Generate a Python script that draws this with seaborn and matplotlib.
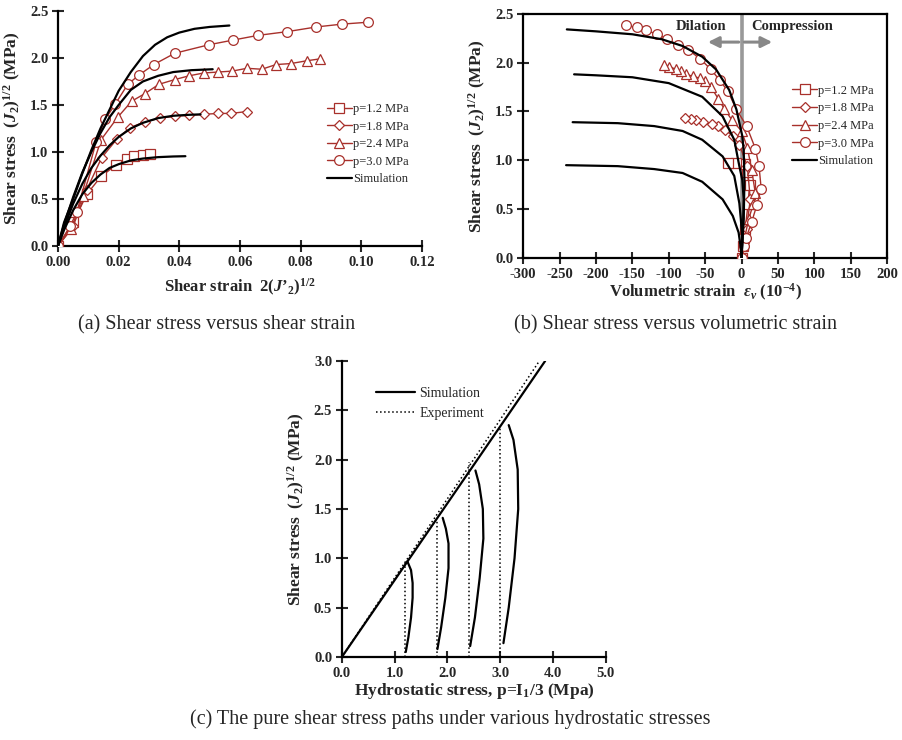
import numpy as np
import pandas as pd
import matplotlib
matplotlib.use("Agg")
import matplotlib.pyplot as plt
from matplotlib.ticker import FormatStrFormatter, MultipleLocator
import seaborn as sns

sns.set_style("ticks")
plt.rcParams['font.family'] = ['Liberation Serif', 'DejaVu Serif']
plt.rcParams['mathtext.fontset'] = 'custom'
plt.rcParams['mathtext.rm'] = 'Liberation Serif:bold'
plt.rcParams['mathtext.bf'] = 'Liberation Serif:bold'
plt.rcParams['mathtext.it'] = 'Liberation Serif:italic:bold'
plt.rcParams['axes.unicode_minus'] = False

RED = '#A8302B'
pressures = ['p=1.2 MPa', 'p=1.8 MPa', 'p=2.4 MPa', 'p=3.0 MPa']
markers = ['s', 'D', '^', 'o']
msizes = [7, 5, 7, 7]

# ---------------- Panel (a): shear stress vs shear strain ----------------
exp_a_12_x = [0, 0.005, 0.0095, 0.0142, 0.0191, 0.0227, 0.0251, 0.0279, 0.0303]
exp_a_12_y = [0, 0.25, 0.55, 0.74, 0.86, 0.93, 0.96, 0.97, 0.98]
exp_a_18_x = [0, 0.005, 0.0095, 0.0144, 0.0195, 0.0238, 0.0286, 0.0337, 0.0385, 0.0432, 0.048, 0.0527, 0.057, 0.0623]
exp_a_18_y = [0, 0.21, 0.60, 0.94, 1.14, 1.26, 1.32, 1.36, 1.38, 1.39, 1.40, 1.41, 1.41, 1.43]
exp_a_24_x = [0, 0.0044, 0.0082, 0.0142, 0.0197, 0.0243, 0.0286, 0.0333, 0.0385, 0.0432, 0.048, 0.0527,
              0.0574, 0.0623, 0.0672, 0.0719, 0.0767, 0.082, 0.0863]
exp_a_24_y = [0, 0.18, 0.53, 1.13, 1.37, 1.54, 1.62, 1.72, 1.77, 1.81, 1.84, 1.85, 1.86, 1.89, 1.88,
              1.93, 1.94, 1.97, 1.99]
exp_a_30_x = [0, 0.004, 0.0062, 0.0126, 0.0156, 0.0189, 0.023, 0.0268, 0.0316, 0.0385, 0.0497, 0.0577,
              0.0659, 0.0756, 0.0852, 0.0937, 0.1022]
exp_a_30_y = [0, 0.21, 0.36, 1.11, 1.35, 1.51, 1.72, 1.82, 1.93, 2.05, 2.14, 2.19, 2.24, 2.28, 2.33, 2.36, 2.38]

sim_a_12_x = [0, 0.002, 0.005, 0.008, 0.011, 0.014, 0.017, 0.02, 0.024, 0.028, 0.033, 0.038, 0.042]
sim_a_12_y = [0, 0.17, 0.38, 0.55, 0.67, 0.76, 0.83, 0.87, 0.91, 0.93, 0.945, 0.952, 0.955]
sim_a_18_x = [0, 0.002, 0.005, 0.008, 0.011, 0.014, 0.017, 0.02, 0.024, 0.028, 0.033, 0.038, 0.043, 0.047]
sim_a_18_y = [0, 0.2, 0.45, 0.66, 0.83, 0.96, 1.07, 1.16, 1.25, 1.31, 1.36, 1.385, 1.395, 1.40]
sim_a_24_x = [0, 0.002, 0.005, 0.008, 0.011, 0.014, 0.017, 0.02, 0.024, 0.028, 0.033, 0.038, 0.044, 0.051]
sim_a_24_y = [0, 0.23, 0.52, 0.78, 1.0, 1.2, 1.37, 1.5, 1.66, 1.75, 1.81, 1.85, 1.87, 1.88]
sim_a_30_x = [0, 0.002, 0.005, 0.008, 0.011, 0.014, 0.017, 0.02, 0.024, 0.028, 0.032, 0.036, 0.04, 0.045, 0.05, 0.0565]
sim_a_30_y = [0, 0.25, 0.5, 0.77, 1.02, 1.25, 1.45, 1.65, 1.85, 2.02, 2.14, 2.22, 2.27, 2.31, 2.33, 2.345]

# ---------------- Panel (b): shear stress vs volumetric strain ----------------
exp_b_12_x = [0, 2, 5, 9, 11, 7, 5, -8, -19]
exp_b_12_y = [0, 0.12, 0.3, 0.55, 0.75, 0.88, 0.96, 0.97, 0.97]
exp_b_18_x = [0, 3, 7, 12, 8, -3, -12, -23, -33, -41, -53, -62, -69, -77]
exp_b_18_y = [0, 0.12, 0.3, 0.6, 0.94, 1.16, 1.25, 1.31, 1.35, 1.37, 1.39, 1.41, 1.42, 1.43]
exp_b_24_x = [0, 4, 10, 16, 19, 14, 8, 0, -13, -24, -32, -42, -50, -57, -67, -76, -83, -90, -99, -106]
exp_b_24_y = [0, 0.2, 0.4, 0.55, 0.66, 0.9, 1.13, 1.3, 1.41, 1.53, 1.63, 1.75, 1.81, 1.84, 1.86, 1.88,
              1.91, 1.93, 1.96, 1.98]
exp_b_30_x = [0, 4, 6, 14, 21, 27, 24, 19, 7, -7, -19, -30, -42, -57, -73, -87, -102, -116, -131, -144, -159]
exp_b_30_y = [0, 0.12, 0.2, 0.37, 0.54, 0.71, 0.94, 1.12, 1.35, 1.52, 1.71, 1.82, 1.93, 2.04, 2.13, 2.18,
              2.24, 2.29, 2.33, 2.36, 2.38]

sim_b_12_x = [0, -1, -4, -12, -26, -54, -81, -120, -170, -241]
sim_b_12_y = [0, 0.1, 0.26, 0.43, 0.6, 0.78, 0.87, 0.91, 0.94, 0.95]
sim_b_18_x = [0, 1, -1, -3, -10, -26, -54, -81, -120, -170, -232]
sim_b_18_y = [0, 0.2, 0.4, 0.56, 0.84, 1.04, 1.21, 1.3, 1.35, 1.38, 1.39]
sim_b_24_x = [0, 2, 3, 1, -3, -10, -26, -54, -100, -150, -200, -230]
sim_b_24_y = [0, 0.3, 0.6, 0.8, 0.94, 1.21, 1.45, 1.65, 1.79, 1.85, 1.87, 1.88]
sim_b_30_x = [0, 3, 4, 3, 1, -2, -7, -17, -35, -54, -81, -110, -150, -200, -240]
sim_b_30_y = [0, 0.4, 0.8, 1.1, 1.25, 1.35, 1.52, 1.72, 1.93, 2.06, 2.17, 2.24, 2.29, 2.32, 2.34]

# ---------------- Panel (c): stress paths ----------------
fail_sim_x = [0, 3.85]
fail_sim_y = [0, 3.0]
fail_exp_x = [0, 3.74]
fail_exp_y = [0, 3.0]
exp_p = [1.2, 1.8, 2.4, 3.0]
exp_peak = [0.96, 1.39, 1.98, 2.33]
path_12_x = [1.21, 1.26, 1.31, 1.34, 1.34, 1.31, 1.24]
path_12_y = [0.05, 0.2, 0.4, 0.6, 0.75, 0.88, 0.97]
path_18_x = [1.81, 1.88, 1.96, 2.02, 2.02, 1.97, 1.91]
path_18_y = [0.08, 0.3, 0.6, 0.9, 1.15, 1.3, 1.41]
path_24_x = [2.43, 2.52, 2.61, 2.68, 2.67, 2.6, 2.53]
path_24_y = [0.11, 0.4, 0.8, 1.2, 1.5, 1.75, 1.89]
path_30_x = [3.06, 3.16, 3.27, 3.34, 3.33, 3.25, 3.16]
path_30_y = [0.14, 0.5, 1.0, 1.5, 1.9, 2.2, 2.35]

TICK_FS = 10.5
YLAB_FS = 12.5
XLAB_FS = 12
CAP_FS = 14.5

fig = plt.figure(figsize=(9.02, 7.4), dpi=100)
ax_a = fig.add_axes([0.0643, 0.6676, 0.4035, 0.3176])
ax_b = fig.add_axes([0.580, 0.6514, 0.4035, 0.330])
ax_c = fig.add_axes([0.379, 0.1122, 0.2927, 0.400])


def line(ax, x, y, **kw):
    df = pd.DataFrame({'x': x, 'y': y})
    sns.lineplot(data=df, x='x', y='y', sort=False, estimator=None, ax=ax, **kw)


def style(ax, spines_all=False):
    for s in ['left', 'bottom', 'top', 'right']:
        ax.spines[s].set_linewidth(1.6)
        ax.spines[s].set_color('black')
    if not spines_all:
        ax.spines['top'].set_visible(False)
        ax.spines['right'].set_visible(False)
    ax.tick_params(direction='inout', length=8, width=1.5, labelsize=TICK_FS, pad=3)
    for t in ax.get_xticklabels() + ax.get_yticklabels():
        t.set_fontweight('bold')


def add_panel(ax, exps, sims, legend_anchor):
    for (x, y), lab, m, ms in zip(exps, pressures, markers, msizes):
        line(ax, x, y, color=RED, lw=1.0, marker=m, markersize=ms, markerfacecolor='white',
             markeredgecolor=RED, markeredgewidth=0.9, label=lab, zorder=3)
    for i, (x, y) in enumerate(sims):
        line(ax, x, y, color='black', lw=1.6, label='Simulation' if i == 0 else '_nolegend_', zorder=4)
    h, l = ax.get_legend_handles_labels()
    ax.legend(h, l, loc='upper left', bbox_to_anchor=legend_anchor, frameon=False,
              fontsize=9, handlelength=2.0, handletextpad=0.1, labelspacing=0.45, borderaxespad=0)


# Panel (a)
add_panel(ax_a,
          [(exp_a_12_x, exp_a_12_y), (exp_a_18_x, exp_a_18_y), (exp_a_24_x, exp_a_24_y), (exp_a_30_x, exp_a_30_y)],
          [(sim_a_12_x, sim_a_12_y), (sim_a_18_x, sim_a_18_y), (sim_a_24_x, sim_a_24_y), (sim_a_30_x, sim_a_30_y)],
          (0.725, 0.63))
ax_a.set_xlim(0, 0.12)
ax_a.set_ylim(0, 2.5)
ax_a.xaxis.set_major_locator(MultipleLocator(0.02))
ax_a.yaxis.set_major_locator(MultipleLocator(0.5))
ax_a.xaxis.set_major_formatter(FormatStrFormatter('%.2f'))
ax_a.yaxis.set_major_formatter(FormatStrFormatter('%.1f'))
ax_a.set_xlabel("Shear strain  $2(J\u2019_2)^{1/2}$", fontsize=XLAB_FS, fontweight='bold', labelpad=6)
ax_a.set_ylabel(r"Shear stress  $(J_2)^{1/2}$ (MPa)", fontsize=YLAB_FS, fontweight='bold', labelpad=5)
style(ax_a)

# Panel (b)
ax_b.axvline(0, color='#999999', lw=2.6, zorder=1)
add_panel(ax_b,
          [(exp_b_12_x, exp_b_12_y), (exp_b_18_x, exp_b_18_y), (exp_b_24_x, exp_b_24_y), (exp_b_30_x, exp_b_30_y)],
          [(sim_b_12_x, sim_b_12_y), (sim_b_18_x, sim_b_18_y), (sim_b_24_x, sim_b_24_y), (sim_b_30_x, sim_b_30_y)],
          (0.725, 0.73))
ax_b.set_xlim(-300, 200)
ax_b.set_ylim(0, 2.5)
ax_b.xaxis.set_major_locator(MultipleLocator(50))
ax_b.yaxis.set_major_locator(MultipleLocator(0.5))
ax_b.yaxis.set_major_formatter(FormatStrFormatter('%.1f'))
ax_b.annotate('', xy=(-50, 2.21), xytext=(0, 2.21),
              arrowprops=dict(arrowstyle='-|>', color='#888888', lw=2.2, mutation_scale=16))
ax_b.annotate('', xy=(46, 2.21), xytext=(0, 2.21),
              arrowprops=dict(arrowstyle='-|>', color='#888888', lw=2.2, mutation_scale=16))
ax_b.text(-56, 2.37, 'Dilation', ha='center', va='center', fontsize=10.5, fontweight='bold')
ax_b.text(69, 2.37, 'Compression', ha='center', va='center', fontsize=10.5, fontweight='bold')
ax_b.set_xlabel(r"Volumetric strain  $\varepsilon_v$ (10$^{-4}$)", fontsize=XLAB_FS, fontweight='bold', labelpad=1)
ax_b.set_ylabel(r"Shear stress  $(J_2)^{1/2}$ (MPa)", fontsize=YLAB_FS, fontweight='bold', labelpad=5)
style(ax_b, spines_all=True)

# Panel (c)
line(ax_c, fail_sim_x, fail_sim_y, color='black', lw=1.6, label='Simulation')
line(ax_c, fail_exp_x, fail_exp_y, color='black', lw=1.1, linestyle=':', label='Experiment')
for p, pk in zip(exp_p, exp_peak):
    line(ax_c, [p, p], [0, pk], color='black', lw=1.1, linestyle=':', label='_nolegend_')
for x, y in [(path_12_x, path_12_y), (path_18_x, path_18_y), (path_24_x, path_24_y), (path_30_x, path_30_y)]:
    line(ax_c, x, y, color='black', lw=1.6, label='_nolegend_')
ax_c.legend(loc='upper left', bbox_to_anchor=(0.11, 0.93), frameon=False, fontsize=10,
            handlelength=2.8, handletextpad=0.3, labelspacing=0.5, borderaxespad=0)
ax_c.set_xlim(0, 5)
ax_c.set_ylim(0, 3)
ax_c.xaxis.set_major_locator(MultipleLocator(1))
ax_c.yaxis.set_major_locator(MultipleLocator(0.5))
ax_c.xaxis.set_major_formatter(FormatStrFormatter('%.1f'))
ax_c.yaxis.set_major_formatter(FormatStrFormatter('%.1f'))
ax_c.set_xlabel(r"Hydrostatic stress, p=I$_1$/3 (Mpa)", fontsize=YLAB_FS, fontweight='bold', labelpad=1)
ax_c.set_ylabel(r"Shear stress  $(J_2)^{1/2}$ (MPa)", fontsize=YLAB_FS, fontweight='bold', labelpad=5)
style(ax_c)

# Captions
fig.text(217 / 902, 1 - 325 / 740, '(a) Shear stress versus shear strain', ha='center', va='center', fontsize=CAP_FS)
fig.text(675 / 902, 1 - 325 / 740, '(b) Shear stress versus volumetric strain', ha='center', va='center', fontsize=CAP_FS)
fig.text(450 / 902, 1 - 719 / 740, '(c) The pure shear stress paths under various hydrostatic stresses',
         ha='center', va='center', fontsize=CAP_FS)

fig.savefig('out.png', dpi=100)
